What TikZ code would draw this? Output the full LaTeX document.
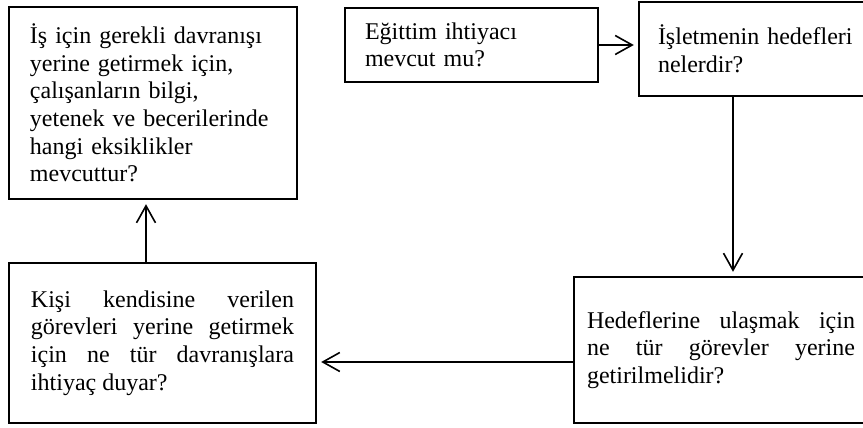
\documentclass[tikz,border=0pt]{standalone}
\usepackage{fontspec}
\setmainfont{Liberation Serif}
\usetikzlibrary{arrows.meta}

\begin{document}
\begin{tikzpicture}[every node/.style={font=\fontsize{12pt}{13.8pt}\selectfont},
    kutu/.style={draw,line width=1.2pt,inner xsep=0pt,inner ysep=0pt},
    ok/.style={-{Straight Barb[length=8.5pt,width=9.5pt]},line width=0.8pt,shorten >=2pt}]
    \useasboundingbox (0,0) rectangle (431.5pt,214pt);
    \clip (0,0) rectangle (431.5pt,214pt);
    \node[kutu,minimum width=144pt,minimum height=96pt,text width=123pt,align=left] (eksik) at (76.5pt,162.5pt) {İş için gerekli davranışı\\yerine getirmek için,\\çalışanların bilgi,\\yetenek ve becerilerinde\\hangi eksiklikler\\mevcuttur?};
    \node[kutu,minimum width=126.5pt,minimum height=37pt,text width=106.5pt,align=left] (ihtiyac) at (235.75pt,191.5pt) {Eğittim ihtiyacı\\mevcut mu?};
    \node[kutu,minimum width=117pt,minimum height=47pt,text width=98pt,align=left] (hedef) at (378pt,189.5pt) {İşletmenin hedefleri\\nelerdir?};
    \node[kutu,minimum width=147pt,minimum height=73pt,text width=134pt,align=justify] (gorev) at (360.5pt,39pt) {Hedeflerine ulaşmak için\linebreak ne tür görevler yerine\linebreak getirilmelidir?};
    \node[kutu,minimum width=153.5pt,minimum height=80pt,text width=131.5pt,align=justify] (davranis) at (81.25pt,42.5pt) {Kişi kendisine verilen\linebreak görevleri yerine getirmek\linebreak için ne tür davranışlara\linebreak ihtiyaç duyar?};
    \draw[ok] (ihtiyac.east) -- (ihtiyac.east -| hedef.west);
    \draw[ok] ([xshift=6pt]gorev.north |- hedef.south) -- ([xshift=6pt]gorev.north);
    \draw[ok] ([yshift=-6pt]gorev.west) -- ([yshift=-6pt]gorev.west -| davranis.east);
    \draw[ok] ([xshift=-3.5pt]eksik.south |- davranis.north) -- ([xshift=-3.5pt]eksik.south);
\end{tikzpicture}
\end{document}
